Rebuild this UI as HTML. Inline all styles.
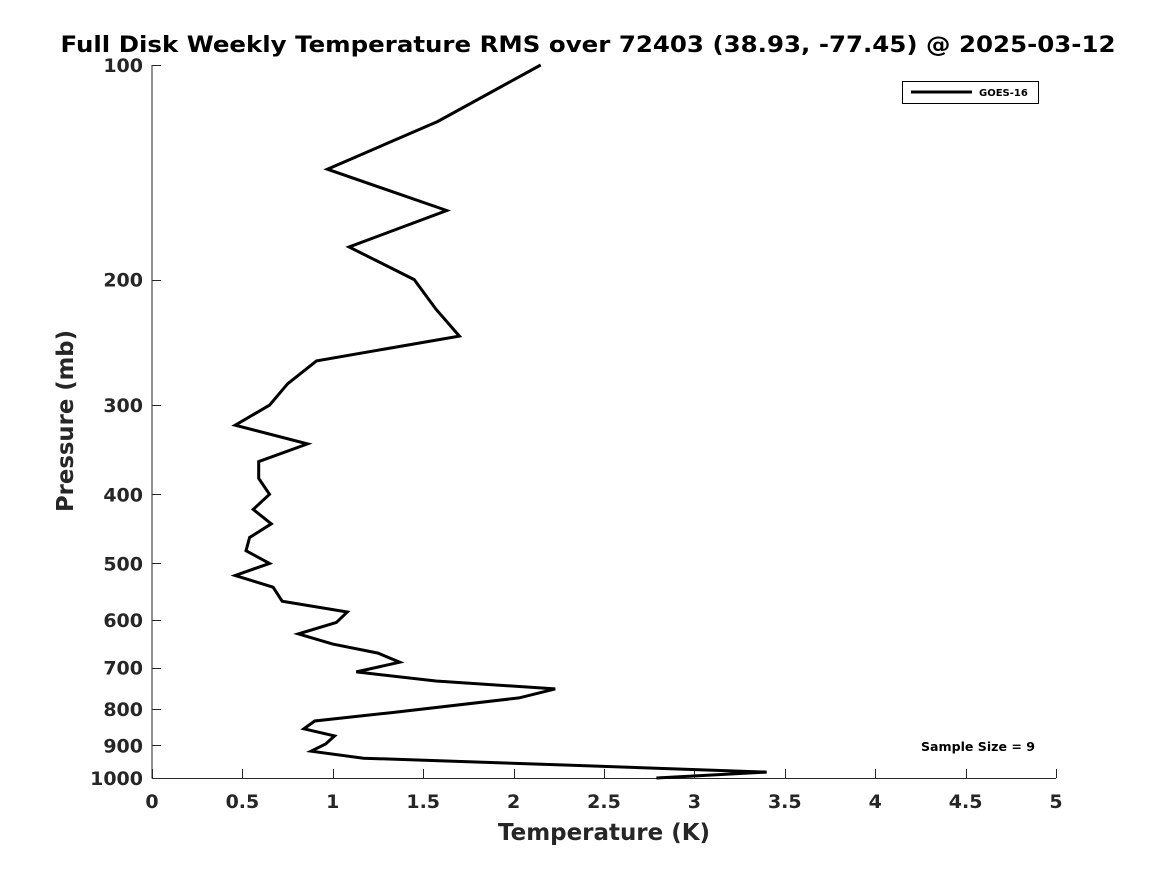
<!DOCTYPE html>
<html><head><meta charset="utf-8"><style>
html,body{margin:0;padding:0;background:#fff;}
svg{display:block;font-family:"DejaVu Sans","Liberation Sans",sans-serif;font-weight:bold;}
</style></head><body>
<svg id="chart" width="1167" height="875" viewBox="0 0 1167 875" xmlns="http://www.w3.org/2000/svg">
<rect width="1167" height="875" fill="#fff"/>
<text x="588" y="52" text-anchor="middle" font-size="22" fill="#000" textLength="1055" lengthAdjust="spacingAndGlyphs">Full Disk Weekly Temperature RMS over 72403 (38.93, -77.45) @ 2025-03-12</text>
<g id="axes"></g>
<g id="series"></g>
<g>
<rect x="902.5" y="81.5" width="136" height="22" fill="#fff" stroke="#000" stroke-width="1"/>
<line x1="911" y1="92" x2="972" y2="92" stroke="#000" stroke-width="3"/>
<text x="979" y="96" font-size="10" fill="#000">GOES-16</text>
</g>
<text x="921" y="751" font-size="12" fill="#000" textLength="114" lengthAdjust="spacingAndGlyphs">Sample Size = 9</text>
<text x="604" y="840" text-anchor="middle" font-size="23" fill="#262626" textLength="212" lengthAdjust="spacingAndGlyphs">Temperature (K)</text>
<text transform="translate(73,421) rotate(-90)" text-anchor="middle" font-size="23" fill="#262626" textLength="182" lengthAdjust="spacingAndGlyphs">Pressure (mb)</text>
</svg>
<script>
const temps = [2.15,1.58,0.97,1.63,1.09,1.45,1.57,1.70,0.91,0.75,0.65,0.46,0.86,0.59,0.59,0.65,0.56,0.66,0.54,0.52,0.65,0.46,0.67,0.72,1.08,1.02,0.81,1.00,1.25,1.37,1.13,1.57,2.23,2.03,1.32,0.90,0.84,1.01,0.96,0.88,1.17,2.28,3.40,2.79];
const pressures = [100,120,140,160,180,200,220,240,260,280,300,320,340,360,380,400,420,440,460,480,500,520,540,565,585,605,628,649,668,688,710,731,750,772,810,832,853,873,896,917,938,959,981,1000];
const xTicks = [0,0.5,1,1.5,2,2.5,3,3.5,4,4.5,5];
const xTickLabels = ["0","0.5","1","1.5","2","2.5","3","3.5","4","4.5","5"];
const yTicks = [100,200,300,400,500,600,700,800,900,1000];
const yTickLabels = ["100","200","300","400","500","600","700","800","900","1000"];

const X0=152, X1=1056, Y0=65, Y1=778;
function xs(v){return X0+(v-0)/(5-0)*(X1-X0);}
function ys(p){return Y0+(Math.log10(p)-2)/(3-2)*(Y1-Y0);}
const NS="http://www.w3.org/2000/svg";
const axes=document.getElementById('axes');
function mk(tag,attrs,parent){const e=document.createElementNS(NS,tag);for(const k in attrs)e.setAttribute(k,attrs[k]);parent.appendChild(e);return e;}

const yAxis=mk('line',{x1:X0,y1:Y0,x2:X0,y2:Y1+0.5,stroke:'#262626','stroke-width':1},axes);


const xAxis=mk('line',{x1:X0,y1:Y1+0.5,x2:X1,y2:Y1+0.5,stroke:'#262626','stroke-width':1},axes);



xTicks.forEach((v,i)=>{
  const x=Math.round(xs(v))+0.5;
  const t=mk('line',{x1:x,y1:Y1,x2:x,y2:Y1-9,stroke:'#262626','stroke-width':1},axes);
  
  
  const l=mk('text',{x:xs(v),y:808,'text-anchor':'middle','font-size':19,fill:'#262626'},axes);
  
  
  l.textContent=xTickLabels[i];
});
yTicks.forEach((v,i)=>{
  const y=Math.round(ys(v))+0.5;
  const t=mk('line',{x1:X0,y1:y,x2:X0+9,y2:y,stroke:'#262626','stroke-width':1},axes);
  
  
  const l=mk('text',{x:143,y:ys(v)+7,'text-anchor':'end','font-size':19,fill:'#262626'},axes);
  
  
  l.textContent=yTickLabels[i];
});

const series=document.getElementById('series');
const pts=temps.map((t,i)=>xs(t).toFixed(1)+','+ys(pressures[i]).toFixed(1)).join(' ');
const pl=mk('polyline',{points:pts,fill:'none',stroke:'#000','stroke-width':3,'stroke-linejoin':'miter'},series);


</script>
</body></html>
